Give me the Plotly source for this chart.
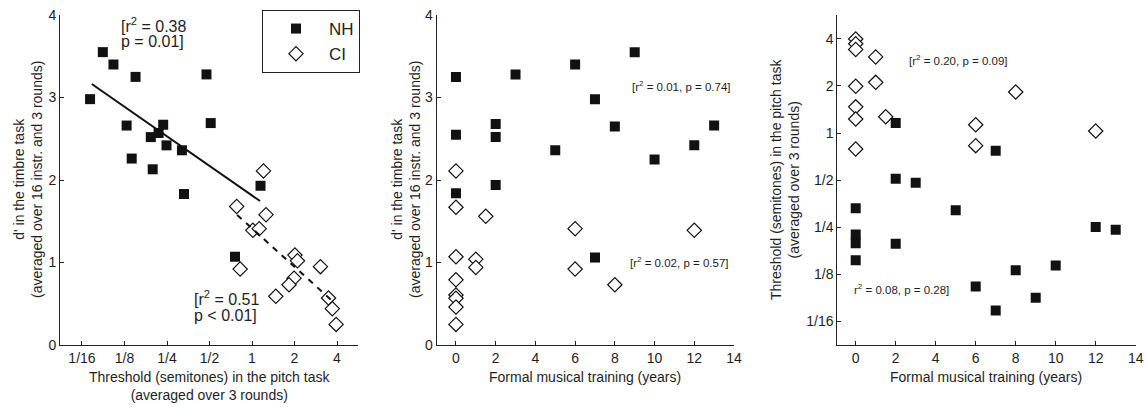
import plotly.graph_objects as go

W, H = 1146, 407

# ---------------- data ----------------
# Panel A: d' (timbre) vs pitch threshold (semitones)
a_nh_thr = [0.0713, 0.0878, 0.1044, 0.1497, 0.1294, 0.1406, 0.192, 0.218, 0.235,
            0.248, 0.198, 0.319, 0.330, 0.476, 0.510, 1.149, 0.758]
a_nh_d = [2.98, 3.55, 3.40, 3.25, 2.66, 2.26, 2.52, 2.57, 2.67,
          2.42, 2.13, 2.36, 1.83, 3.28, 2.69, 1.93, 1.07]
a_ci_thr = [1.206, 0.779, 1.257, 1.014, 1.125, 0.824, 2.014, 2.099, 3.053,
            1.986, 1.828, 1.474, 3.482, 3.706, 3.945]
a_ci_d = [2.11, 1.68, 1.58, 1.39, 1.41, 0.92, 1.09, 1.02, 0.95,
          0.81, 0.73, 0.59, 0.57, 0.44, 0.25]
a_fit_nh_thr = [0.0733, 1.14]
a_fit_nh_d = [3.164, 1.745]
a_fit_ci_thr = [0.785, 3.87]
a_fit_ci_d = [1.576, 0.505]

# Panel B: d' (timbre) vs years of musical training
b_nh_years = [0, 0, 0, 2, 2, 2, 3, 5, 6, 7, 8, 9, 10, 12, 13, 7]
b_nh_d = [3.25, 2.55, 1.84, 2.68, 2.52, 1.94, 3.28, 2.36, 3.40, 2.98, 2.65, 3.55, 2.25, 2.42, 2.66, 1.06]
b_ci_years = [0, 0, 1.5, 6, 12, 0, 1, 1, 6, 8, 0, 0, 0, 0, 0]
b_ci_d = [2.11, 1.67, 1.56, 1.41, 1.39, 1.07, 1.04, 0.94, 0.92, 0.73, 0.79, 0.606, 0.566, 0.46, 0.25]

# Panel C: pitch threshold vs years of musical training
c_nh_years = [2, 7, 2, 3, 0, 5, 0, 0, 2, 0, 12, 13, 6, 8, 10, 9, 7]
c_nh_thr = [1.16, 0.77, 0.51, 0.48, 0.33, 0.32, 0.224, 0.197, 0.195, 0.153,
            0.25, 0.24, 0.104, 0.132, 0.142, 0.088, 0.073]
c_ci_years = [0, 0, 0, 1, 0, 1, 0, 0, 1.5, 0, 6, 6, 8, 12]
c_ci_thr = [4.0, 3.73, 3.43, 3.07, 1.99, 2.11, 1.47, 1.23, 1.27, 0.79, 1.13, 0.83, 1.83, 1.03]

log_ticks = [1/16, 1/8, 1/4, 1/2, 1, 2, 4]
log_ticktext = ['1/16', '1/8', '1/4', '1/2', '1', '2', '4']
year_ticks = [0, 2, 4, 6, 8, 10, 12, 14]
d_ticks = [0, 1, 2, 3, 4]

stats_a = ['[r<sup>2</sup> = 0.38', 'p = 0.01]', '[r<sup>2</sup> = 0.51', 'p < 0.01]']
stats_b = ['[r<sup>2</sup> = 0.01, p = 0.74]', '[r<sup>2</sup> = 0.02, p = 0.57]']
stats_c = ['[r<sup>2</sup> = 0.20, p = 0.09]', 'r<sup>2</sup> = 0.08, p = 0.28]']

# ---------------- style ----------------
FONT = 'Liberation Sans, Arial, sans-serif'
TXT = '#1e1e1e'
nh_marker = dict(symbol='square', size=10, color='#111111', line=dict(width=0))
ci_marker = dict(symbol='diamond', size=11, color='white', line=dict(width=1.2, color='#111111'))


def fx(p):
    return p / W


def fy(p):
    return (H - p) / H


fig = go.Figure()

# panel A
fig.add_trace(go.Scatter(x=a_ci_thr, y=a_ci_d, mode='markers', marker=ci_marker, name='CI',
                         legendrank=2, xaxis='x', yaxis='y'))
fig.add_trace(go.Scatter(x=a_nh_thr, y=a_nh_d, mode='markers', marker=nh_marker, name='NH',
                         legendrank=1, xaxis='x', yaxis='y'))
fig.add_trace(go.Scatter(x=a_fit_nh_thr, y=a_fit_nh_d, mode='lines', line=dict(color='#111111', width=2),
                         showlegend=False, xaxis='x', yaxis='y'))
fig.add_trace(go.Scatter(x=a_fit_ci_thr, y=a_fit_ci_d, mode='lines',
                         line=dict(color='#111111', width=2, dash='6px,6px'),
                         showlegend=False, xaxis='x', yaxis='y'))
# panel B
fig.add_trace(go.Scatter(x=b_ci_years, y=b_ci_d, mode='markers', marker=ci_marker, showlegend=False,
                         xaxis='x2', yaxis='y2'))
fig.add_trace(go.Scatter(x=b_nh_years, y=b_nh_d, mode='markers', marker=nh_marker, showlegend=False,
                         xaxis='x2', yaxis='y2'))
# panel C
fig.add_trace(go.Scatter(x=c_ci_years, y=c_ci_thr, mode='markers', marker=ci_marker, showlegend=False,
                         xaxis='x3', yaxis='y3'))
fig.add_trace(go.Scatter(x=c_nh_years, y=c_nh_thr, mode='markers', marker=nh_marker, showlegend=False,
                         xaxis='x3', yaxis='y3'))

ax_common = dict(showline=True, linecolor='#222222', linewidth=1, ticks='inside', ticklen=4,
                 tickcolor='#222222', showgrid=False, zeroline=False, automargin=False,
                 tickfont=dict(family=FONT, size=14, color=TXT))

ydom = [fy(345), fy(15)]
fig.update_layout(
    width=W, height=H, margin=dict(l=0, r=0, t=0, b=0, pad=0, autoexpand=False),
    paper_bgcolor='white', plot_bgcolor='white',
    font=dict(family=FONT, color=TXT),
    xaxis=dict(**ax_common, type='log', domain=[fx(60), fx(358)], range=[-1.3599, 0.7508],
               tickvals=log_ticks, ticktext=log_ticktext, anchor='y'),
    yaxis=dict(**ax_common, domain=ydom, range=[0, 4], tickvals=d_ticks, anchor='x'),
    xaxis2=dict(**ax_common, domain=[fx(436.7), fx(734)], range=[-0.97, 14], tickvals=year_ticks, anchor='y2'),
    yaxis2=dict(**ax_common, domain=ydom, range=[0, 4], tickvals=d_ticks, anchor='x2'),
    xaxis3=dict(**ax_common, domain=[fx(837.3), fx(1135.7)], range=[-0.92, 14], tickvals=year_ticks, anchor='y3'),
    yaxis3=dict(**ax_common, type='log', domain=ydom, range=[-1.3576, 0.7556],
                tickvals=log_ticks, ticktext=log_ticktext, anchor='x3'),
    showlegend=True,
    legend=dict(x=fx(262), y=fy(10), xanchor='left', yanchor='top', bgcolor='white',
                bordercolor='#222222', borderwidth=1, itemwidth=56,
                font=dict(family=FONT, size=17, color=TXT)),
)

anns = []


def ann(text, x, y, size, xanchor='left', angle=0, yanchor='middle'):
    anns.append(dict(text=text, x=fx(x), y=fy(y), xref='paper', yref='paper', showarrow=False,
                     xanchor=xanchor, yanchor=yanchor, textangle=angle,
                     font=dict(family=FONT, size=size, color=TXT)))


# statistics
ann(stats_a[0], 119, 25, 16)
ann(stats_a[1], 119, 42, 16)
ann(stats_a[2], 192, 298, 16)
ann(stats_a[3], 192, 315, 16)
ann(stats_b[0], 630, 86, 11.5)
ann(stats_b[1], 628, 262, 11.5)
ann(stats_c[0], 907, 60, 11.5)
ann(stats_c[1], 852, 289, 11.5)

# axis titles
ttl_d = "d' in the timbre task<br>(averaged over 16 instr. and 3 rounds)"
ttl_thr = "Threshold (semitones) in the pitch task<br>(averaged over 3 rounds)"
ttl_years = "Formal musical training (years)"
ann(ttl_d, 28, 180, 14, xanchor='center', angle=-90)
ann(ttl_d, 406, 180, 14, xanchor='center', angle=-90)
ann(ttl_thr, 785, 180, 14, xanchor='center', angle=-90)
ann(ttl_thr, 209, 386, 14, xanchor='center')
ann(ttl_years, 585, 377, 14, xanchor='center')
ann(ttl_years, 986, 377, 14, xanchor='center')

fig.update_layout(annotations=anns)
fig.write_html('out.html', config={'displayModeBar': False},
               post_script="document.body.style.margin='0';document.body.style.overflow='hidden';")
